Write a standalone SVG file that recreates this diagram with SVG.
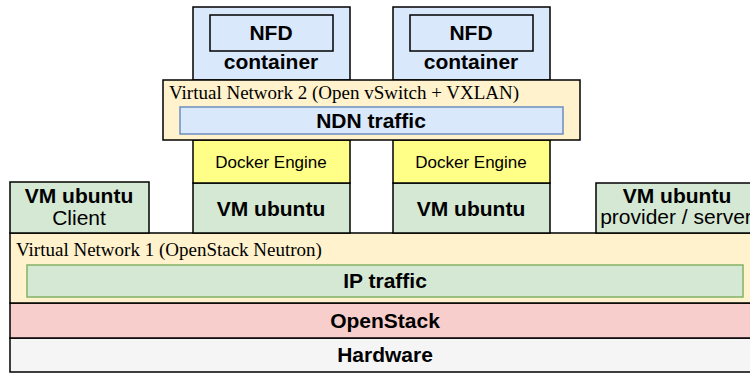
<svg xmlns="http://www.w3.org/2000/svg" width="750" height="374" viewBox="0 0 750 374">
<style>
rect{stroke:#000;stroke-width:1.5}
.b{font-family:"Liberation Sans",Arial,sans-serif;font-weight:bold;font-size:21px;text-anchor:middle;fill:#000}
.r{font-family:"Liberation Sans",Arial,sans-serif;font-size:21px;text-anchor:middle;fill:#000}
.d{font-family:"Liberation Sans",Arial,sans-serif;font-size:17px;text-anchor:middle;fill:#000}
.s{font-family:"Liberation Serif","Times New Roman",serif;font-size:19px;fill:#000}
.blue{fill:#dae8fc}
.yel{fill:#fff2cc}
.grn{fill:#d5e8d4}
</style>
<g id="hardware"><rect x="10" y="338" width="750" height="34" fill="#f5f5f5"/><text class="b" x="385" y="362">Hardware</text></g>
<g id="openstack"><rect x="10" y="303" width="750" height="35" fill="#f8cecc"/><text class="b" x="385" y="328">OpenStack</text></g>
<g id="vn1"><rect x="10" y="233" width="750" height="70" class="yel"/><text class="s" x="16" y="256">Virtual Network 1 (OpenStack Neutron)</text></g>
<g id="ip-traffic"><rect x="27" y="265" width="716" height="32" class="grn" style="stroke:#82b366"/><text class="b" x="385" y="288">IP traffic</text></g>
<g id="vm-client"><rect x="10" y="182" width="139" height="51" class="grn"/><text class="b" x="79" y="203">VM ubuntu</text><text class="r" x="79" y="225">Client</text></g>
<g id="vm-provider"><rect x="596" y="183" width="160" height="50" class="grn"/><text class="b" x="677" y="203">VM ubuntu</text><text class="r" x="676" y="224">provider / server</text></g>
<g id="vm1"><rect x="193" y="183" width="157" height="50" class="grn"/><text class="b" x="271" y="216">VM ubuntu</text></g>
<g id="vm2"><rect x="393" y="183" width="157" height="50" class="grn"/><text class="b" x="471" y="216">VM ubuntu</text></g>
<g id="docker1"><rect x="193" y="140" width="157" height="43" fill="#ffff88"/><text class="d" x="271" y="168">Docker Engine</text></g>
<g id="docker2"><rect x="393" y="140" width="157" height="43" fill="#ffff88"/><text class="d" x="471" y="168">Docker Engine</text></g>
<g id="container1"><rect x="193" y="7" width="157" height="73" class="blue"/><rect x="210" y="15" width="123" height="36" class="blue"/><text class="b" x="271" y="40">NFD</text><text class="b" x="271" y="69">container</text></g>
<g id="container2"><rect x="393" y="7" width="157" height="73" class="blue"/><rect x="410" y="15" width="123" height="36" class="blue"/><text class="b" x="471" y="40">NFD</text><text class="b" x="471" y="69">container</text></g>
<g id="vn2"><rect x="163" y="80" width="417" height="60" class="yel"/><text class="s" x="169" y="99">Virtual Network 2 (Open vSwitch + VXLAN)</text></g>
<g id="ndn-traffic"><rect x="180" y="107" width="383" height="27" class="blue" style="stroke:#6c8ebf"/><text class="b" x="371" y="128">NDN traffic</text></g>
<g id="connectors"/>
</svg>
